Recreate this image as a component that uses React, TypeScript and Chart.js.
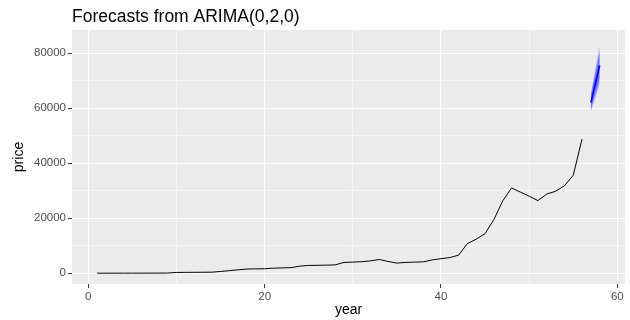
import React, { useEffect, useRef } from "react";
import { Chart, registerables } from "chart.js";

Chart.register(...registerables);

const TITLE = "Forecasts from ARIMA(0,2,0)";
const X_LABEL = "year";
const Y_LABEL = "price";

const histYears = [
  1, 2, 3, 4, 5, 6, 7, 8, 9, 10, 11, 12, 13, 14, 15, 16, 17, 18, 19, 20,
  21, 22, 23, 24, 25, 26, 27, 28, 29, 30, 31, 32, 33, 34, 35, 36, 37, 38, 39, 40,
  41, 42, 43, 44, 45, 46, 47, 48, 49, 50, 51, 52, 53, 54, 55, 56,
];
const histPrice = [
  20, 25, 30, 35, 40, 45, 50, 60, 80, 300, 330, 350, 370, 400, 650, 950, 1250, 1550, 1600, 1650,
  1850, 1950, 2050, 2600, 2850, 2900, 2950, 3050, 3950, 4050, 4200, 4500, 5000, 4300, 3700, 3950, 4050, 4150, 4850, 5300,
  5700, 6600, 10800, 12400, 14400, 19500, 26300, 31000, 29500, 28000, 26400, 28800, 29800, 31800, 35600, 48800,
];

const fcYears = [57, 58];
const fcMean = [62000, 75500];
const fcLo80 = [59800, 71000];
const fcHi80 = [64300, 80300];
const fcLo95 = [58600, 68800];
const fcHi95 = [65500, 82600];

const xTicks = [0, 10, 20, 30, 40, 50, 60];
const xLabeled = [0, 20, 40, 60];
const yTicks = [0, 10000, 20000, 30000, 40000, 50000, 60000, 70000, 80000];
const yLabeled = [0, 20000, 40000, 60000, 80000];

const FONT = "'Liberation Sans', Arial, sans-serif";

export default function App() {
  const ref = useRef<HTMLCanvasElement>(null);

  useEffect(() => {
    document.body.style.margin = "0";
    const canvas = ref.current;
    if (!canvas) return;

    const pts = (xs: number[], ys: number[]) => xs.map((x, i) => ({ x, y: ys[i] }));

    const panelPlugin = {
      id: "panel",
      beforeDraw(chart: any) {
        const { ctx, chartArea: a } = chart;
        ctx.save();
        ctx.fillStyle = "#EBEBEB";
        ctx.fillRect(a.left, a.top, a.right - a.left, a.bottom - a.top);
        ctx.restore();
      },
      afterDraw(chart: any) {
        const { ctx, chartArea: a } = chart;
        ctx.save();
        ctx.fillStyle = "#000000";
        ctx.font = `17.5px ${FONT}`;
        ctx.textAlign = "left";
        ctx.textBaseline = "middle";
        ctx.fillText(TITLE, a.left, 17);
        ctx.font = `14px ${FONT}`;
        ctx.textAlign = "center";
        ctx.fillText(X_LABEL, (a.left + a.right) / 2, 310);
        ctx.translate(19, (a.top + a.bottom) / 2);
        ctx.rotate(-Math.PI / 2);
        ctx.fillText(Y_LABEL, 0, 0);
        ctx.restore();
      },
    };

    const chart = new Chart(canvas, {
      type: "line",
      data: {
        datasets: [
          {
            label: "price",
            data: pts(histYears, histPrice),
            borderColor: "#000000",
            borderWidth: 1,
            pointRadius: 0,
            fill: false,
          },
          {
            label: "mean",
            data: pts(fcYears, fcMean),
            borderColor: "#0000EE",
            borderWidth: 1.6,
            pointRadius: 0,
            fill: false,
          },
          {
            label: "hi80",
            data: pts(fcYears, fcHi80),
            borderWidth: 0,
            borderColor: "rgba(0,0,0,0)",
            pointRadius: 0,
            backgroundColor: "#6B6BFF",
            fill: "+1",
          },
          {
            label: "lo80",
            data: pts(fcYears, fcLo80),
            borderWidth: 0,
            borderColor: "rgba(0,0,0,0)",
            pointRadius: 0,
            fill: false,
          },
          {
            label: "hi95",
            data: pts(fcYears, fcHi95),
            borderWidth: 0,
            borderColor: "rgba(0,0,0,0)",
            pointRadius: 0,
            backgroundColor: "#A6A6FF",
            fill: "+1",
          },
          {
            label: "lo95",
            data: pts(fcYears, fcLo95),
            borderWidth: 0,
            borderColor: "rgba(0,0,0,0)",
            pointRadius: 0,
            fill: false,
          },
        ],
      },
      options: {
        animation: false,
        responsive: false,
        devicePixelRatio: 1,
        layout: { padding: { left: 8, right: 5, top: 30, bottom: 0 } },
        plugins: {
          legend: { display: false },
          tooltip: { enabled: false },
          title: { display: false },
        },
        scales: {
          x: {
            type: "linear",
            min: -1.85,
            max: 60.87,
            afterBuildTicks: (axis: any) => {
              axis.ticks = xTicks.map((v) => ({ value: v }));
            },
            afterFit: (s: any) => {
              s.height = 36;
            },
            border: { display: false },
            grid: {
              color: "#FFFFFF",
              lineWidth: (c: any) => (xLabeled.includes(c.tick?.value) ? 1.1 : 0.55),
              drawTicks: true,
              tickLength: 4,
              tickWidth: 1,
              tickColor: (c: any) => (xLabeled.includes(c.tick?.value) ? "#333333" : "rgba(0,0,0,0)"),
            },
            ticks: {
              autoSkip: false,
              maxRotation: 0,
              padding: 2,
              color: "#4D4D4D",
              font: { family: FONT, size: 11.5 },
              callback: (v: any) => (xLabeled.includes(Number(v)) ? String(v) : ""),
            },
          },
          y: {
            type: "linear",
            min: -3900,
            max: 88400,
            afterBuildTicks: (axis: any) => {
              axis.ticks = yTicks.map((v) => ({ value: v }));
            },
            afterFit: (s: any) => {
              s.width = 64;
            },
            border: { display: false },
            grid: {
              color: "#FFFFFF",
              lineWidth: (c: any) => (yLabeled.includes(c.tick?.value) ? 1.1 : 0.55),
              drawTicks: true,
              tickLength: 4,
              tickWidth: 1,
              tickColor: (c: any) => (yLabeled.includes(c.tick?.value) ? "#333333" : "rgba(0,0,0,0)"),
            },
            ticks: {
              autoSkip: false,
              padding: 2,
              color: "#4D4D4D",
              font: { family: FONT, size: 11.5 },
              callback: (v: any) => (yLabeled.includes(Number(v)) ? String(v) : ""),
            },
          },
        },
      },
      plugins: [panelPlugin],
    });

    return () => chart.destroy();
  }, []);

  return <canvas ref={ref} width={630} height={320} style={{ display: "block" }} />;
}
